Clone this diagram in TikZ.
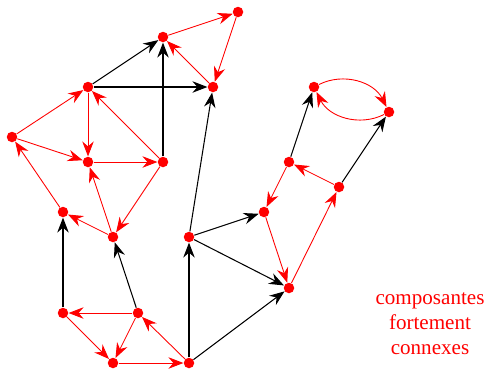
\documentclass[tikz,border=0pt]{standalone}
\usepackage{fontspec}
\setmainfont{Liberation Serif}
\usetikzlibrary{arrows.meta}
\begin{document}
\begin{tikzpicture}[x=0.02cm,y=-0.02cm,
  vtx/.style={circle,fill=red,inner sep=0pt,minimum size=0.21cm},
  redarr/.style={draw=red,line width=0.5pt,-{Stealth[length=0.3cm,width=0.23cm,inset=0.1cm]}},
  blackarr/.style={draw=black,line width=0.6pt,-{Stealth[length=0.3cm,width=0.23cm,inset=0.1cm]}},
  lbl/.style={text=red,align=center,font=\fontsize{12}{14.2}\selectfont}]
\useasboundingbox (0,0) rectangle (487,369);
\node[vtx] (A) at (238,12) {};
\node[vtx] (B) at (163,37) {};
\node[vtx] (C) at (213,87) {};
\node[vtx] (D) at (88,87) {};
\node[vtx] (E) at (12,137) {};
\node[vtx] (F) at (88,162) {};
\node[vtx] (G) at (163,162) {};
\node[vtx] (H) at (63,212) {};
\node[vtx] (I) at (113,237) {};
\node[vtx] (J) at (189,237) {};
\node[vtx] (K) at (264,212) {};
\node[vtx] (L) at (289,288) {};
\node[vtx] (M) at (63,313) {};
\node[vtx] (N) at (138,313) {};
\node[vtx] (O) at (113,363) {};
\node[vtx] (P) at (189,363) {};
\node[vtx] (Q) at (314,87) {};
\node[vtx] (R) at (389,112) {};
\node[vtx] (S) at (289,162) {};
\node[vtx] (T) at (339,187) {};
% red edges
\draw[redarr] (B) -- (A);
\draw[redarr] (A) -- (C);
\draw[redarr] (C) -- (B);
\draw[redarr] (E) -- (D);
\draw[redarr] (D) -- (F);
\draw[redarr] (E) -- (F);
\draw[redarr] (G) -- (D);
\draw[redarr] (F) -- (G);
\draw[redarr] (H) -- (E);
\draw[redarr] (I) -- (F);
\draw[redarr] (G) -- (I);
\draw[redarr] (I) -- (H);
\draw[redarr] (N) -- (M);
\draw[redarr] (M) -- (O);
\draw[redarr] (N) -- (O);
\draw[redarr] (O) -- (P);
\draw[redarr] (P) -- (N);
\draw[redarr] (Q) to[bend left=45] (R);
\draw[redarr] (R) to[bend left=45] (Q);
\draw[redarr] (T) -- (S);
\draw[redarr] (S) -- (K);
\draw[redarr] (K) -- (L);
\draw[redarr] (L) -- (T);
% black edges
\draw[blackarr] (D) -- (B);
\draw[blackarr] (D) -- (C);
\draw[blackarr] (G) -- (B);
\draw[blackarr] (J) -- (C);
\draw[blackarr] (M) -- (H);
\draw[blackarr] (N) -- (I);
\draw[blackarr] (P) -- (J);
\draw[blackarr] (J) -- (K);
\draw[blackarr] (J) -- (L);
\draw[blackarr] (P) -- (L);
\draw[blackarr] (S) -- (Q);
\draw[blackarr] (T) -- (R);
\node[lbl] (txt) at (430,324) {composantes\\fortement\\connexes};
\end{tikzpicture}
\end{document}
